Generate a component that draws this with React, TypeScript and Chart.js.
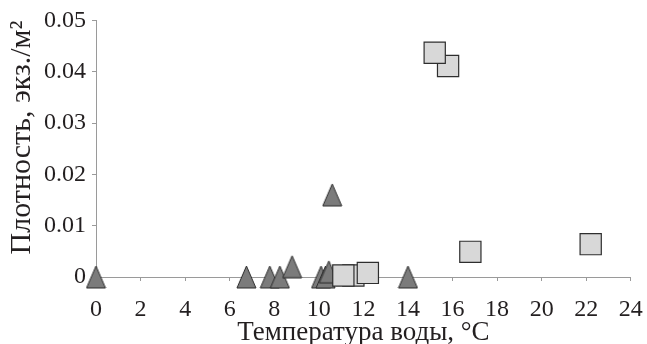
import React, { useEffect, useRef } from "react";
import { Chart, registerables } from "chart.js";

Chart.register(...registerables);

const xTitle = "Температура воды, °C";
const yTitle = "Плотность, экз./м²";

const triangleTemps = [0, 6.75, 7.8, 8.25, 8.8, 10.1, 10.3, 10.45, 10.6, 14.0];
const triangleDensity = [0, 0, 0, 0, 0.002, 0, 0, 0.001, 0.016, 0];

const squareTemps = [11.55, 11.1, 12.2, 15.8, 15.2, 16.8, 22.2];
const squareDensity = [0.0003, 0.0003, 0.0008, 0.0411, 0.0437, 0.0049, 0.0064];

function makeTriangle(): HTMLCanvasElement {
  const c = document.createElement("canvas");
  const w = 21, h = 24;
  c.width = w;
  c.height = h;
  const ctx = c.getContext("2d")!;
  ctx.beginPath();
  ctx.moveTo(w / 2, 1);
  ctx.lineTo(w - 1, h - 1);
  ctx.lineTo(1, h - 1);
  ctx.closePath();
  ctx.fillStyle = "#7b7b7b";
  ctx.fill();
  ctx.strokeStyle = "#2a2a2a";
  ctx.lineWidth = 1;
  ctx.stroke();
  return c;
}

export default function App() {
  const ref = useRef<HTMLCanvasElement | null>(null);
  useEffect(() => {
    document.body.style.margin = "0";
    const tri = makeTriangle();
    const font = "'Liberation Serif', 'Times New Roman', serif";
    const chart = new Chart(ref.current!, {
      type: "scatter",
      data: {
        datasets: [
          {
            label: "squares",
            data: squareTemps.map((x, i) => ({ x, y: squareDensity[i] })),
            pointStyle: "rect",
            pointRadius: 15,
            pointHoverRadius: 15,
            backgroundColor: "#d8d8d8",
            borderColor: "#2e2e2e",
            borderWidth: 1.2,
            clip: false,
          },
          {
            label: "triangles",
            data: triangleTemps.map((x, i) => ({ x, y: triangleDensity[i] })),
            pointStyle: tri as any,
            pointRadius: 11,
            backgroundColor: "#7b7b7b",
            borderColor: "#2a2a2a",
            clip: false,
          },
        ],
      },
      options: {
        animation: false,
        responsive: false,
        maintainAspectRatio: false,
        layout: { padding: { left: 0, top: 20, right: 16, bottom: 0 } },
        plugins: { legend: { display: false }, tooltip: { enabled: false } },
        scales: {
          x: {
            type: "linear",
            min: 0,
            max: 24,
            ticks: {
              stepSize: 2,
              color: "#231f20",
              font: { family: font, size: 24 },
              padding: 14,
            },
            grid: { drawOnChartArea: false, drawTicks: true, tickLength: 4, color: "#9a9a9a" },
            border: { color: "#9a9a9a", width: 1 },
            title: {
              display: true,
              text: xTitle,
              color: "#231f20",
              font: { family: font, size: 27, lineHeight: 0.85 },
              padding: { top: 0, bottom: 0 },
            },
            afterFit: (s: any) => {
              s.height = 67;
              s.paddingLeft = 0;
              s.paddingRight = 0;
            },
          },
          y: {
            type: "linear",
            min: 0,
            max: 0.05,
            ticks: {
              stepSize: 0.01,
              color: "#231f20",
              font: { family: font, size: 24 },
              padding: 6,
              callback: (v: any) => (Number(v) === 0 ? "0" : Number(v).toFixed(2)),
            },
            grid: { drawOnChartArea: false, drawTicks: true, tickLength: 4, color: "#9a9a9a" },
            border: { color: "#9a9a9a", width: 1 },
            title: {
              display: true,
              text: yTitle,
              align: "end",
              color: "#231f20",
              font: { family: font, size: 30 },
              padding: { top: 4, bottom: 0 },
            },
            afterFit: (s: any) => {
              s.width = 96;
            },
          },
        },
      },
    });
    return () => chart.destroy();
  }, []);
  return (
    <div style={{ width: 647, height: 344 }}>
      <canvas ref={ref} width={647} height={344} style={{ display: "block" }} />
    </div>
  );
}
